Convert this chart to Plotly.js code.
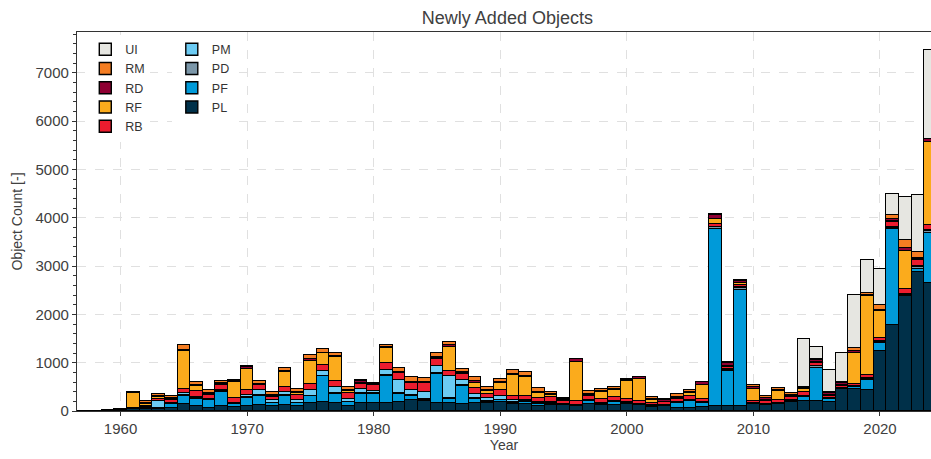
<!DOCTYPE html>
<html>
<head>
<meta charset="utf-8">
<script src="https://cdn.plot.ly/plotly-3.0.1.min.js"></script>
<style>html,body{margin:0;padding:0;background:#fff}#chart{width:931px;height:459px}</style>
</head>
<body>
<div id="chart"></div>
<script>
const years = [];
for (let y = 1957; y <= 2024; y++) years.push(y);

// values per year, 1957 .. 2024
const PL = [2,6,14,20,40,50,50,70,140,100,70,100,90,100,120,100,120,110,160,195,170,100,160,160,170,195,230,215,170,160,145,170,170,195,145,145,105,130,120,105,145,125,125,145,125,90,100,55,55,75,100,100,110,140,130,150,190,215,215,195,450,450,435,1250,1780,2380,2880,2640];
const PF = [0,0,4,8,15,20,10,80,170,140,150,290,60,160,200,60,200,50,150,520,180,80,200,200,560,150,80,15,590,90,370,70,20,30,30,50,50,20,10,10,70,30,55,20,20,20,20,115,160,90,3660,725,2400,10,10,10,20,80,680,50,10,40,205,165,1990,20,50,1040];
const PD = [0,0,0,0,0,5,5,5,30,20,20,20,10,20,10,10,10,10,10,15,15,10,15,10,15,20,20,20,20,20,20,20,10,10,10,10,10,10,5,5,10,10,10,10,5,5,5,10,10,10,40,30,40,5,5,5,5,10,30,10,5,10,20,20,20,10,55,40];
const PM = [0,0,0,0,0,0,150,20,40,40,10,20,10,60,100,60,70,60,115,100,130,60,80,50,100,275,100,150,150,450,115,100,70,70,40,20,20,20,10,5,10,10,10,10,5,5,5,10,10,20,10,10,10,5,5,5,5,10,0,10,5,10,20,20,20,10,10,20];
const RB = [0,0,0,5,10,30,30,50,80,110,80,100,100,90,100,70,90,110,125,130,125,125,100,120,140,140,140,185,140,110,115,125,90,135,90,95,85,100,60,75,70,70,90,70,50,40,50,55,70,50,60,50,50,50,50,50,60,80,75,50,50,40,55,55,100,100,125,110];
const RF = [0,0,0,0,300,40,40,30,780,100,20,20,320,430,20,20,320,30,480,230,500,30,20,10,310,15,15,0,20,500,20,100,50,130,440,380,100,50,20,820,20,140,140,360,450,60,10,30,70,300,110,20,40,255,20,185,30,50,10,20,15,660,1640,550,20,800,20,1720];
const RD = [0,0,0,2,20,20,20,20,20,30,20,20,40,50,10,20,20,20,30,20,20,30,50,20,20,20,20,20,30,30,20,30,20,30,20,30,30,20,20,50,30,20,30,20,40,30,40,20,20,45,70,50,40,40,40,30,30,30,50,30,40,30,30,35,40,50,35,50];
const RM = [0,0,0,5,15,40,40,45,110,60,70,60,10,20,70,50,70,60,80,75,70,55,20,10,50,70,90,70,70,70,70,80,60,70,70,70,70,50,20,10,50,60,30,30,10,30,20,50,40,20,20,30,30,40,55,50,30,20,10,20,15,70,40,100,80,170,110,10];
const UI = [0,0,0,0,0,0,0,0,0,0,0,0,0,0,0,0,0,0,0,0,0,0,0,0,0,0,0,0,0,0,0,0,0,0,0,0,0,0,0,0,0,0,0,0,0,0,0,0,0,0,0,0,0,0,0,0,0,1000,260,470,605,1080,676,745,430,880,1175,1840];

const seriesNames = ['PL','PF','PD','PM','RB','RF','RD','RM','UI'];
const seriesData  = [PL, PF, PD, PM, RB, RF, RD, RM, UI];
const seriesColors = ['#003049','#009ad9','#7b96a8','#6ccbf3','#ec1c2e','#fbab1c','#8f0033','#f47d22','#e6e6e1'];
const seriesLegend = ['legend2','legend2','legend2','legend2','legend','legend','legend','legend','legend'];

const traces = seriesNames.map((n, i) => ({
  type: 'bar',
  name: n,
  x: years,
  y: seriesData[i],
  width: 1,
  marker: {color: seriesColors[i], line: {color: '#000', width: 1.4}},
  legend: seriesLegend[i],
  hoverinfo: 'x+y+name'
}));

const font = 'Liberation Sans, Arial, Helvetica, sans-serif';
const legendCommon = {
  bgcolor: 'rgba(255,255,255,1)',
  borderwidth: 0,
  font: {family: font, size: 12.5, color: '#333'},
  traceorder: 'reversed',
  xanchor: 'left', yanchor: 'top',
  itemwidth: 30,
  tracegroupgap: 0
};

const layout = {
  width: 931, height: 459,
  paper_bgcolor: '#fff', plot_bgcolor: '#fff',
  margin: {l: 76.5, r: 0, t: 32, b: 47.5, pad: 0},
  barmode: 'stack',
  bargap: 0,
  font: {family: font, color: '#404040'},
  title: {text: 'Newly Added Objects', font: {family: font, size: 18, color: '#404040'},
          x: 0.545, xanchor: 'center', y: 0.961, yanchor: 'middle', xref: 'container', yref: 'container'},
  xaxis: {
    range: [1956.56, 2024.03],
    tickvals: [1960, 1970, 1980, 1990, 2000, 2010, 2020],
    ticks: 'outside', ticklen: 4, tickwidth: 1, tickcolor: '#333',
    showline: true, linecolor: '#333', linewidth: 1.2, mirror: true,
    showgrid: true, gridcolor: '#e0e0e0', griddash: 'dash', gridwidth: 1,
    zeroline: false,
    tickfont: {family: font, size: 15, color: '#404040'},
    title: {text: 'Year', font: {family: font, size: 14, color: '#404040'}, standoff: 4}
  },
  yaxis: {
    range: [0, 7842],
    dtick: 1000, tick0: 0,
    ticks: 'outside', ticklen: 4, tickwidth: 1, tickcolor: '#333',
    minor: {dtick: 200, ticks: 'outside', ticklen: 2.5, tickcolor: '#333', showgrid: false},
    showline: true, linecolor: '#333', linewidth: 1.2, mirror: false,
    showgrid: true, gridcolor: '#e0e0e0', griddash: 'dash', gridwidth: 1,
    zeroline: false,
    tickfont: {family: font, size: 15, color: '#404040'},
    title: {text: 'Object Count [-]', font: {family: font, size: 14, color: '#404040'}, standoff: 9}
  },
  legend: Object.assign({}, legendCommon, {x: 0.0097, y: 0.993}),
  legend2: Object.assign({}, legendCommon, {x: 0.111, y: 0.993}),
  showlegend: true
};

Plotly.newPlot('chart', traces, layout, {displayModeBar: false, responsive: false});
</script>
</body>
</html>
